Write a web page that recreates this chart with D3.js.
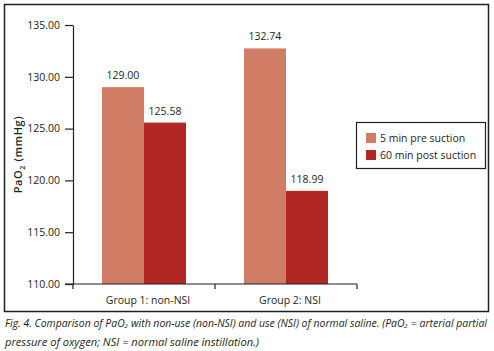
<!DOCTYPE html>
<html>
<head>
<meta charset="utf-8">
<script src="https://cdn.jsdelivr.net/npm/d3@7"></script>
<style>
  body { margin: 0; background: #fff; }
  svg text { font-family: "Open Sans", sans-serif; fill: #231f20; }
</style>
</head>
<body>
<div id="chart"></div>
<script>
// Data
const groups = ["Group 1: non-NSI", "Group 2: NSI"]
const seriesNames = ["5 min pre suction", "60 min post suction"]
const preSuction = [129.00, 132.74]
const postSuction = [125.58, 118.99]
const yTicks = [110, 115, 120, 125, 130, 135]
const seriesColors = ["#d17d65", "#b02723"]

const captionLines = [
  "Fig. 4. Comparison of PaO\u2082 with non-use (non-NSI) and use (NSI) of normal saline. (PaO\u2082 = arterial partial",
  "pressure of oxygen; NSI = normal saline instillation.)"
]

function drawBars() {
  // dimensions
  let dimensions = {
    width: 494,
    height: 351,
    margin: { top: 25, right: 137, bottom: 67, left: 73 },
  }
  dimensions.boundedWidth = dimensions.width - dimensions.margin.left - dimensions.margin.right
  dimensions.boundedHeight = dimensions.height - dimensions.margin.top - dimensions.margin.bottom

  const svg = d3.select("#chart")
    .append("svg")
      .attr("width", dimensions.width)
      .attr("height", dimensions.height)

  // outer frame
  svg.append("rect")
    .attr("x", 4.5)
    .attr("y", 4.5)
    .attr("width", 484)
    .attr("height", 307)
    .attr("fill", "none")
    .attr("stroke", "#231f20")
    .attr("stroke-width", 1.5)

  const bounds = svg.append("g")
    .attr("transform", `translate(${dimensions.margin.left}, ${dimensions.margin.top})`)

  // scales
  const yScale = d3.scaleLinear()
    .domain([110, 135])
    .range([dimensions.boundedHeight, 0])

  const x0 = d3.scaleBand()
    .domain(groups)
    .range([0, dimensions.boundedWidth])

  const x1 = d3.scaleBand()
    .domain(seriesNames)
    .range([0, x0.bandwidth()])
    .paddingOuter(0.69)

  const table = groups.map((g, i) => ({
    group: g,
    values: [
      { name: seriesNames[0], value: preSuction[i] },
      { name: seriesNames[1], value: postSuction[i] },
    ],
  }))

  const color = d3.scaleOrdinal().domain(seriesNames).range(seriesColors)

  // bars
  const groupG = bounds.selectAll(".group")
    .data(table)
    .join("g")
      .attr("class", "group")
      .attr("transform", d => `translate(${x0(d.group)}, 0)`)

  groupG.selectAll("rect")
    .data(d => d.values)
    .join("rect")
      .attr("x", d => x1(d.name))
      .attr("width", x1.bandwidth())
      .attr("y", d => yScale(d.value))
      .attr("height", d => dimensions.boundedHeight - yScale(d.value))
      .attr("fill", d => color(d.name))

  groupG.selectAll(".value-label")
    .data(d => d.values)
    .join("text")
      .attr("class", "value-label")
      .attr("x", d => x1(d.name) + x1.bandwidth() / 2)
      .attr("y", d => yScale(d.value) - 8)
      .attr("text-anchor", "middle")
      .style("font-size", "10.5px")
      .text(d => d3.format(".2f")(d.value))

  // y axis
  const yAxisGenerator = d3.axisLeft(yScale)
    .tickValues(yTicks)
    .tickFormat(d3.format(".2f"))
    .tickSize(8)
    .tickSizeOuter(0)
    .tickPadding(5)
  const yAxis = bounds.append("g").call(yAxisGenerator)
  yAxis.selectAll("text").style("font-size", "10.5px").attr("fill", "#231f20")
  yAxis.selectAll("line, path").attr("stroke", "#231f20").attr("stroke-width", 1.2)

  const yLabel = svg.append("text")
    .attr("transform", `translate(22, ${dimensions.margin.top + dimensions.boundedHeight / 2}) rotate(-90)`)
    .attr("text-anchor", "middle")
    .style("font-size", "11px")
    .style("font-weight", 600)
    .style("letter-spacing", "0.6px")
  yLabel.append("tspan").text("PaO")
  yLabel.append("tspan").attr("dy", 3).style("font-size", "7px").text("2")
  yLabel.append("tspan").attr("dy", -3).text(" (mmHg)")

  // x axis: ticks on band edges
  const xAxis = bounds.append("g")
    .attr("transform", `translate(0, ${dimensions.boundedHeight})`)
  xAxis.append("line")
    .attr("x1", -8)
    .attr("x2", dimensions.boundedWidth)
    .attr("stroke", "#231f20")
    .attr("stroke-width", 1.2)
  const edges = groups.map(g => x0(g)).concat([dimensions.boundedWidth])
  xAxis.selectAll(".edge")
    .data(edges)
    .join("line")
      .attr("class", "edge")
      .attr("x1", d => d)
      .attr("x2", d => d)
      .attr("y1", 0)
      .attr("y2", 5)
      .attr("stroke", "#231f20")
      .attr("stroke-width", 1.2)
  xAxis.selectAll(".cat")
    .data(groups)
    .join("text")
      .attr("class", "cat")
      .attr("x", d => x0(d) + x0.bandwidth() / 2 + 4)
      .attr("y", 20)
      .attr("text-anchor", "middle")
      .style("font-size", "10.5px")
      .text(d => d)

  // legend
  const legend = svg.append("g")
    .attr("transform", "translate(356, 122)")
  legend.append("rect")
    .attr("x", 0.5)
    .attr("y", 0.5)
    .attr("width", 129)
    .attr("height", 46)
    .attr("fill", "#fff")
    .attr("stroke", "#231f20")
    .attr("stroke-width", 1.2)
  const items = legend.selectAll(".item")
    .data(seriesNames)
    .join("g")
      .attr("class", "item")
      .attr("transform", (d, i) => `translate(10, ${11 + i * 17})`)
  items.append("rect")
    .attr("width", 10)
    .attr("height", 10)
    .attr("fill", d => color(d))
  items.append("text")
    .attr("x", 14)
    .attr("y", 9)
    .style("font-size", "10.5px")
    .text(d => d)

  // caption
  const captionWidths = [482, 254]
  svg.selectAll(".caption")
    .data(captionLines)
    .join("text")
      .attr("class", "caption")
      .attr("x", 5)
      .attr("y", (d, i) => 327 + i * 19)
      .attr("textLength", (d, i) => captionWidths[i])
      .attr("lengthAdjust", "spacingAndGlyphs")
      .style("font-size", "10px")
      .style("font-style", "italic")
      .text(d => d)
}

drawBars()
</script>
</body>
</html>
